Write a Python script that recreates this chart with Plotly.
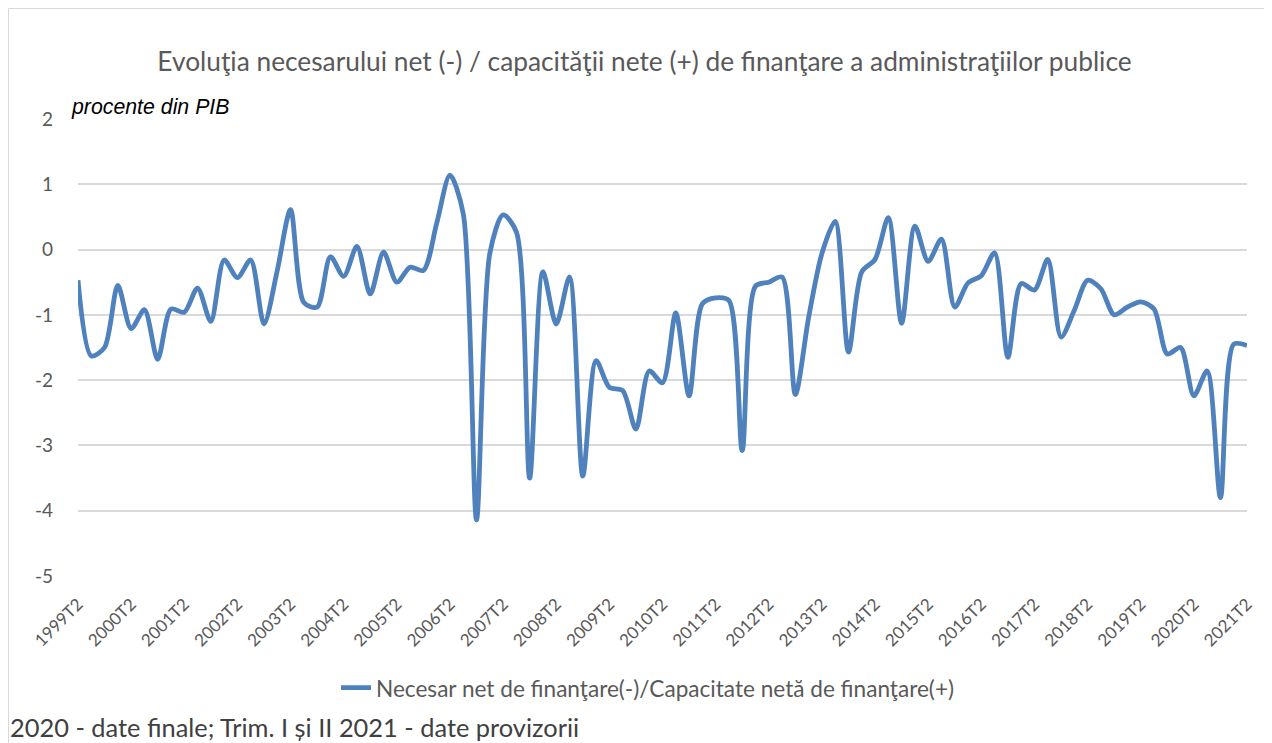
import plotly.graph_objects as go

quarters = []
for y in range(1999, 2022):
    for q in range(1, 5):
        if (y == 1999 and q < 2) or (y == 2021 and q > 2):
            continue
        quarters.append(f"{y}T{q}")

values = [
    -0.47, -1.63, -1.50, -0.55, -1.21, -0.92, -1.68, -0.91, -0.96, -0.59,
    -1.10, -0.16, -0.43, -0.16, -1.14, -0.32, 0.61, -0.81, -0.88, -0.11,
    -0.41, 0.05, -0.68, -0.04, -0.50, -0.27, -0.32, 0.40, 1.14, 0.55,
    -4.14, -0.06, 0.53, 0.27, -3.50, -0.34, -1.14, -0.42, -3.47, -1.70,
    -2.11, -2.16, -2.75, -1.86, -2.04, -0.97, -2.24, -0.83, -0.74, -0.78,
    -3.08, -0.56, -0.50, -0.42, -2.22, -1.04, -0.06, 0.43, -1.57, -0.34,
    -0.15, 0.49, -1.13, 0.36, -0.18, 0.16, -0.88, -0.51, -0.40, -0.05,
    -1.65, -0.52, -0.62, -0.15, -1.34, -0.93, -0.47, -0.60, -1.00, -0.88,
    -0.80, -0.91, -1.60, -1.50, -2.24, -1.86, -3.80, -1.45, -1.47,
]

tick_labels = [q for q in quarters if q.endswith("T2")]
y_ticks = [2, 1, 0, -1, -2, -3, -4, -5]

series_name = "Necesar net de finanţare(-)/Capacitate netă de finanţare(+)"
title_text = "Evoluţia necesarului net (-) / capacităţii nete (+) de finanţare a administraţiilor publice"

font_main = "Lato"
gray = "#595959"

# the page body adds an 8px offset; layout values below are in figure pixels
OFF = 8
W, H = 1261, 743
L, T = 78 - OFF, 119 - OFF
R = W - (1247 - OFF)
B = H - (576 - OFF)
PW, PH = W - L - R, H - T - B


def px(xs):
    return (xs - OFF - L) / PW


def py(ys):
    return 1 - (ys - OFF - T) / PH


fig = go.Figure()
fig.add_trace(go.Scatter(
    x=quarters, y=values, mode="lines", name=series_name,
    line=dict(color="#4f81bd", width=4.8, shape="spline", smoothing=0.8),
))

fig.update_layout(
    width=W, height=H,
    paper_bgcolor="white", plot_bgcolor="white",
    margin=dict(l=L, r=R, t=T, b=B, autoexpand=False),
    font=dict(family=font_main, color=gray, size=16),
    title=dict(text=title_text, x=(644.5 - OFF) / W, xanchor="center",
               y=1 - (62 - OFF) / H, yanchor="middle",
               font=dict(family=font_main, size=26.3, color=gray)),
    showlegend=True,
    legend=dict(orientation="h", x=px(648), xanchor="center", y=py(688),
                yanchor="middle",
                font=dict(family=font_main, size=22.6, color=gray)),
    xaxis=dict(
        type="category", range=[0, len(quarters) - 1], automargin=False,
        tickmode="array", tickvals=tick_labels, ticktext=tick_labels,
        tickangle=-45, tickfont=dict(family=font_main, size=17, color=gray),
        showgrid=False, showline=False, zeroline=False, ticks="",
        ticklabelstandoff=14,
    ),
    yaxis=dict(
        range=[-5, 2], tickmode="array", tickvals=y_ticks, automargin=False,
        ticktext=[str(v) for v in y_ticks],
        tickfont=dict(family=font_main, size=19, color=gray),
        showgrid=True, gridcolor="#d9d9d9", gridwidth=1.5,
        zeroline=False, showline=False, ticks="", ticklabelstandoff=24,
    ),
    annotations=[
        dict(text="<i>procente din PIB</i>", xref="paper", yref="paper",
             x=px(69), y=py(107), xanchor="left", yanchor="middle",
             showarrow=False,
             font=dict(family="Liberation Sans", size=21.3, color="black")),
        dict(text="2020 - date finale; Trim. I și II 2021 - date provizorii",
             xref="paper", yref="paper", x=px(8), y=py(727),
             xanchor="left", yanchor="middle", showarrow=False,
             font=dict(family=font_main, size=25.4, color="#404040")),
    ],
    shapes=[
        dict(type="rect", xref="paper", yref="paper",
             x0=px(8.5), x1=px(1268.5), y0=py(760), y1=py(8.5),
             line=dict(color="#d9d9d9", width=1), fillcolor="rgba(0,0,0,0)", layer="below"),
    ],
)

fig.write_html("out.html")
